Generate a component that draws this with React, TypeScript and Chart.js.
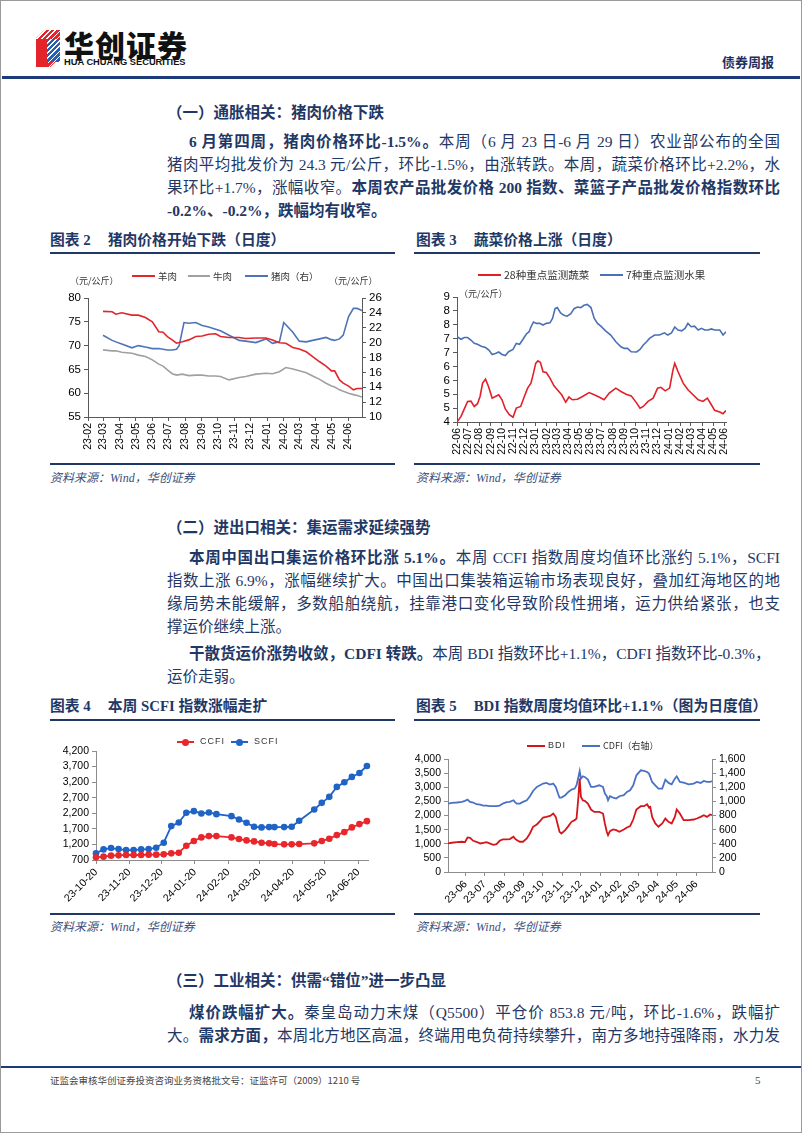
import React, { useEffect, useRef } from "react";
import { Chart, registerables } from "chart.js";
Chart.register(...registerables);

// ---------------- data ----------------
// Chart 2: meat prices (yuan/kg)
const meatDates = ["2023-03-01","2023-03-18","2023-03-25","2023-04-05","2023-04-24","2023-05-06","2023-05-19","2023-06-01","2023-06-13","2023-06-21","2023-06-29","2023-07-08","2023-07-16","2023-07-27","2023-08-08","2023-08-21","2023-09-02","2023-09-14","2023-09-27","2023-10-06","2023-10-22","2023-11-10","2023-11-22","2023-12-11","2023-12-30","2024-01-11","2024-01-24","2024-02-05","2024-02-18","2024-03-01","2024-03-14","2024-03-26","2024-04-08","2024-04-20","2024-04-30","2024-05-06","2024-05-15","2024-05-22","2024-06-01","2024-06-10","2024-06-17","2024-06-26"];
const muttonPrice = [77.2,77.1,76.6,76.9,76.4,76.4,75.9,75.0,72.9,72.8,71.9,71.2,70.5,70.8,71.2,71.9,72.0,72.4,72.5,71.9,71.7,71.7,71.5,71.6,71.6,71.2,70.6,70.5,69.6,69.3,68.7,67.7,66.6,65.7,64.7,64.7,62.8,62.1,61.5,60.7,61.0,61.0];
const beefPrice = [69.1,68.9,68.9,68.6,68.4,68.0,67.7,67.0,66.1,65.7,64.9,64.1,63.8,64.0,63.7,63.8,63.8,63.6,63.6,63.5,62.8,63.3,63.5,64.0,64.2,64.1,64.5,65.4,65.1,64.7,64.3,63.6,62.9,62.1,61.5,61.3,60.7,60.4,60.0,59.7,59.5,59.2];
const porkDates = ["2023-03-01","2023-03-18","2023-03-25","2023-04-05","2023-04-24","2023-05-06","2023-05-19","2023-06-01","2023-06-13","2023-06-21","2023-06-29","2023-07-08","2023-07-16","2023-07-21","2023-07-30","2023-08-08","2023-08-21","2023-09-02","2023-09-14","2023-09-27","2023-10-06","2023-10-22","2023-11-10","2023-11-22","2023-12-11","2023-12-30","2024-01-11","2024-01-24","2024-02-01","2024-02-05","2024-02-18","2024-03-01","2024-03-14","2024-03-26","2024-04-08","2024-04-20","2024-04-30","2024-05-06","2024-05-15","2024-05-22","2024-06-01","2024-06-10","2024-06-17","2024-06-26"];
const porkPrice = [21.0,20.3,20.1,19.8,19.3,19.6,19.4,19.2,19.2,19.1,19.0,19.0,19.1,19.6,22.7,22.6,22.7,22.3,22.1,21.8,21.6,21.0,20.3,20.2,20.0,20.5,19.9,20.1,22.7,22.4,21.4,20.2,20.1,20.3,20.5,20.7,20.4,20.3,20.5,21.0,23.5,24.6,24.6,24.3];
const meatTicks = ["2023-02-01","2023-03-01","2023-04-01","2023-05-01","2023-06-01","2023-07-01","2023-08-01","2023-09-01","2023-10-01","2023-11-01","2023-12-01","2024-01-01","2024-02-01","2024-03-01","2024-04-01","2024-05-01","2024-06-01"];

// Chart 3: vegetables / fruit (yuan/kg)
const vegDates = ["2022-06-01","2022-06-12","2022-06-21","2022-06-30","2022-07-09","2022-07-18","2022-07-27","2022-08-03","2022-08-10","2022-08-18","2022-08-26","2022-09-05","2022-09-14","2022-09-23","2022-10-02","2022-10-11","2022-10-22","2022-11-01","2022-11-10","2022-11-22","2022-12-02","2022-12-11","2022-12-20","2022-12-27","2023-01-02","2023-01-08","2023-01-15","2023-01-22","2023-01-31","2023-02-10","2023-02-21","2023-03-02","2023-03-14","2023-03-25","2023-04-03","2023-04-12","2023-04-26","2023-05-10","2023-05-28","2023-06-11","2023-06-24","2023-07-08","2023-07-22","2023-08-09","2023-08-23","2023-09-06","2023-09-20","2023-10-05","2023-10-14","2023-10-23","2023-11-05","2023-11-19","2023-12-01","2023-12-10","2023-12-22","2024-01-03","2024-01-12","2024-01-17","2024-01-26","2024-02-09","2024-02-22","2024-03-07","2024-03-21","2024-04-03","2024-04-15","2024-04-26","2024-05-05","2024-05-19","2024-05-28","2024-06-05"];
const vegPrice = [4.00,4.20,4.47,4.74,4.75,4.56,4.66,4.92,5.40,5.54,5.28,4.86,4.92,4.98,4.80,4.47,4.26,4.17,4.50,4.56,4.92,5.22,5.40,5.76,6.11,6.20,6.14,5.81,5.78,5.58,5.30,5.16,4.98,4.71,4.90,4.80,4.82,4.92,5.06,4.98,4.90,4.80,5.04,5.22,5.10,5.00,4.94,4.68,4.50,4.56,4.74,4.86,5.22,5.25,5.12,5.22,5.87,6.11,5.81,5.40,5.16,4.98,4.80,4.74,4.86,4.62,4.42,4.36,4.30,4.41];
const fruitDates = ["2022-06-01","2022-06-12","2022-06-21","2022-06-30","2022-07-09","2022-07-18","2022-07-27","2022-08-06","2022-08-18","2022-08-27","2022-09-05","2022-09-14","2022-09-23","2022-10-02","2022-10-11","2022-10-20","2022-11-01","2022-11-10","2022-11-19","2022-11-28","2022-12-07","2022-12-15","2022-12-20","2022-12-27","2023-01-04","2023-01-13","2023-01-22","2023-01-31","2023-02-10","2023-02-17","2023-02-24","2023-03-02","2023-03-11","2023-03-20","2023-03-29","2023-04-08","2023-04-17","2023-04-26","2023-05-05","2023-05-14","2023-05-23","2023-06-02","2023-06-11","2023-06-20","2023-06-29","2023-07-12","2023-07-26","2023-08-09","2023-08-23","2023-09-01","2023-09-10","2023-09-20","2023-10-05","2023-10-14","2023-10-23","2023-11-01","2023-11-09","2023-11-23","2023-12-06","2023-12-20","2023-12-29","2024-01-08","2024-01-17","2024-01-26","2024-02-05","2024-02-14","2024-02-22","2024-03-02","2024-03-11","2024-03-21","2024-03-30","2024-04-08","2024-04-17","2024-04-26","2024-05-05","2024-05-19","2024-05-28","2024-06-05"];
const fruitPrice = [7.07,6.98,7.04,7.04,6.95,6.83,6.80,6.73,6.68,6.59,6.43,6.47,6.52,6.43,6.39,6.53,6.61,6.83,6.80,6.97,7.16,7.25,7.42,7.60,7.55,7.55,7.49,7.55,7.57,7.73,8.08,8.12,7.93,7.84,7.81,7.90,8.08,8.14,8.12,8.20,8.23,8.12,7.73,7.55,7.45,7.28,7.13,6.89,6.71,6.65,6.65,6.53,6.52,6.61,6.77,6.89,7.01,7.13,7.13,7.21,7.13,7.21,7.42,7.31,7.28,7.37,7.55,7.43,7.45,7.31,7.37,7.31,7.31,7.35,7.31,7.31,7.13,7.25];
const vegTicks = ["2022-06-01","2022-07-01","2022-08-01","2022-09-01","2022-10-01","2022-11-01","2022-12-01","2023-01-01","2023-02-01","2023-03-01","2023-04-01","2023-05-01","2023-06-01","2023-07-01","2023-08-01","2023-09-01","2023-10-01","2023-11-01","2023-12-01","2024-01-01","2024-02-01","2024-03-01","2024-04-01","2024-05-01","2024-06-01"];

// Chart 4: CCFI / SCFI weekly
const freightDates = ["2023-10-20","2023-10-27","2023-11-03","2023-11-10","2023-11-17","2023-11-24","2023-12-01","2023-12-08","2023-12-15","2023-12-22","2023-12-29","2024-01-05","2024-01-12","2024-01-19","2024-01-26","2024-02-02","2024-02-09","2024-02-23","2024-03-01","2024-03-08","2024-03-15","2024-03-22","2024-03-29","2024-04-03","2024-04-12","2024-04-19","2024-04-26","2024-05-10","2024-05-17","2024-05-24","2024-05-31","2024-06-07","2024-06-14","2024-06-21","2024-06-28"];
const ccfi = [785,807,839,849,860,860,860,871,871,881,913,935,1159,1308,1426,1468,1468,1426,1372,1330,1298,1255,1234,1212,1202,1202,1212,1234,1308,1383,1500,1596,1746,1852,1948];
const scfi = [913,1041,1084,1052,1020,1020,1041,1052,1095,1255,1788,1906,2215,2268,2194,2226,2172,2108,2002,1895,1767,1746,1756,1756,1756,1767,1959,2322,2535,2727,3047,3197,3368,3495,3719];
const freightTicks = ["2023-10-20","2023-11-20","2023-12-20","2024-01-20","2024-02-20","2024-03-20","2024-04-20","2024-05-20","2024-06-20"];

// Chart 5: BDI / CDFI daily
const bulkDates = ["2023-05-04","2023-05-10","2023-05-18","2023-05-26","2023-05-31","2023-06-04","2023-06-08","2023-06-13","2023-06-18","2023-06-24","2023-06-29","2023-07-04","2023-07-09","2023-07-15","2023-07-20","2023-07-25","2023-07-30","2023-08-05","2023-08-10","2023-08-16","2023-08-18","2023-08-21","2023-08-26","2023-08-31","2023-09-06","2023-09-11","2023-09-16","2023-09-22","2023-09-27","2023-10-02","2023-10-07","2023-10-13","2023-10-18","2023-10-22","2023-10-26","2023-10-28","2023-10-31","2023-11-06","2023-11-11","2023-11-16","2023-11-21","2023-11-24","2023-11-27","2023-11-29","2023-12-01","2023-12-04","2023-12-07","2023-12-12","2023-12-17","2023-12-22","2023-12-30","2024-01-05","2024-01-08","2024-01-11","2024-01-13","2024-01-16","2024-01-21","2024-01-26","2024-01-31","2024-02-07","2024-02-12","2024-02-17","2024-02-22","2024-02-27","2024-03-05","2024-03-10","2024-03-15","2024-03-18","2024-03-20","2024-03-23","2024-03-28","2024-04-02","2024-04-08","2024-04-13","2024-04-18","2024-04-23","2024-04-28","2024-05-01","2024-05-06","2024-05-12","2024-05-20","2024-05-28","2024-06-02","2024-06-08","2024-06-13","2024-06-18","2024-06-23","2024-06-26"];
const bdi = [1011,1035,1059,1070,1059,1223,1211,1105,1070,1011,1035,1059,1011,964,988,1105,1152,1152,1164,1247,1188,1129,1070,1070,1188,1364,1600,1682,1799,1929,1952,1987,2070,1952,1600,1423,1364,1482,1623,1776,1835,1893,2658,3305,2658,2540,2517,2423,2211,2129,2129,2070,1717,1423,1305,1447,1505,1482,1423,1505,1576,1623,1858,2211,2329,2329,2399,2282,2305,1952,1717,1600,1717,1893,1776,1717,1952,2211,2070,1835,1835,1858,1893,1952,2011,1952,2035,2011];
const cdfi = [969,979,984,993,1007,1026,993,984,960,955,941,941,932,932,932,941,969,988,993,1016,993,969,969,993,1016,1073,1148,1205,1228,1252,1261,1238,1252,1205,1101,1054,1054,1087,1134,1167,1181,1228,1346,1430,1322,1355,1346,1308,1205,1205,1228,1205,1111,1073,1016,1073,1054,1040,1073,1087,1134,1158,1228,1369,1440,1431,1416,1393,1346,1275,1228,1181,1181,1308,1261,1242,1322,1355,1275,1266,1242,1252,1275,1261,1289,1275,1275,1289];
const bulkTicks = ["2023-06-01","2023-07-01","2023-08-01","2023-09-01","2023-10-01","2023-11-01","2023-12-01","2024-01-01","2024-02-01","2024-03-01","2024-04-01","2024-05-01","2024-06-01"];

// ---------------- helpers ----------------
const NAVY = "#1f3866";
const SERIF = '"Liberation Serif","Noto Sans CJK SC",serif';
const CJK = '"Noto Sans CJK SC","Liberation Sans",sans-serif';
const SANS = '"Liberation Sans",Arial,sans-serif';

const D = (s: string) => Date.UTC(+s.slice(0, 4), +s.slice(5, 7) - 1, +s.slice(8, 10)) / 86400000;
const pts = (dates: string[], vals: number[]) => vals.map((v, i) => ({ x: D(dates[i]), y: v }));
const ym = (s: string) => s.slice(2, 7);
const ymd = (s: string) => s.slice(2);
const comma = (v: number) => Math.round(v).toLocaleString("en-US");

function axisLines(color: string) {
  return {
    border: { display: true, color, width: 1 },
    grid: { display: true, drawOnChartArea: false, drawTicks: true, tickLength: 4, color, lineWidth: 1 },
  };
}

function xDateAxis(min: string, max: string, ticks: string[], fmt: (s: string) => string, rot: number, height: number, size: number, color: string) {
  return {
    type: "linear",
    min: D(min),
    max: D(max),
    afterBuildTicks: (s: any) => {
      s.ticks = ticks.map((t) => ({ value: D(t) }));
    },
    afterFit: (s: any) => {
      s.height = height;
    },
    ticks: {
      autoSkip: false,
      minRotation: rot,
      maxRotation: rot,
      padding: 2,
      color: "#000",
      font: { family: SANS, size },
      callback: (v: number) => {
        const t = ticks.find((d) => D(d) === v);
        return t ? fmt(t) : "";
      },
    },
    ...axisLines(color),
  };
}

function yAxis(position: string, min: number, max: number, step: number, width: number, size: number, color: string, fmt: (v: number) => string) {
  return {
    type: "linear",
    position,
    min,
    max,
    afterFit: (s: any) => {
      s.width = width;
    },
    afterBuildTicks: (s: any) => {
      const out: any[] = [];
      for (let v = min; v <= max + 1e-9; v += step) out.push({ value: +v.toFixed(4) });
      s.ticks = out;
    },
    ticks: { autoSkip: false, color: "#000", padding: 3, font: { family: SANS, size }, callback: (v: number) => fmt(v) },
    ...axisLines(color),
  };
}

const common = {
  responsive: false,
  animation: false,
  devicePixelRatio: 1,
  events: [],
  plugins: { legend: { display: false }, tooltip: { enabled: false }, title: { display: false } },
  elements: { point: { radius: 0 }, line: { tension: 0 } },
};

function ChartCanvas({ left, top, width, height, make }: any) {
  const ref = useRef<HTMLCanvasElement | null>(null);
  useEffect(() => {
    const c = new Chart(ref.current as HTMLCanvasElement, make());
    return () => c.destroy();
  }, []);
  return <canvas ref={ref} width={width} height={height} style={{ position: "absolute", left, top, width, height }} />;
}

// ---------------- chart configs ----------------
const makeMeat = () => ({
  type: "line",
  data: {
    datasets: [
      { data: pts(meatDates, muttonPrice), borderColor: "#e3262b", borderWidth: 1.6, yAxisID: "y" },
      { data: pts(meatDates, beefPrice), borderColor: "#a0a0a0", borderWidth: 1.6, yAxisID: "y" },
      { data: pts(porkDates, porkPrice), borderColor: "#4f73b8", borderWidth: 1.6, yAxisID: "y1" },
    ],
  },
  options: {
    ...common,
    layout: { padding: { top: 13, right: 0, bottom: 0, left: 0 } },
    scales: {
      x: xDateAxis("2023-02-01", "2024-06-26", meatTicks, ym, 90, 40, 10.5, "#595959"),
      y: yAxis("left", 55, 80, 5, 43, 11.5, "#595959", (v) => String(v)),
      y1: yAxis("right", 10, 26, 2, 33, 11.5, "#595959", (v) => String(v)),
    },
  },
});

const makeVeg = () => ({
  type: "line",
  data: {
    datasets: [
      { data: pts(vegDates, vegPrice), borderColor: "#e2202a", borderWidth: 1.6, yAxisID: "y" },
      { data: pts(fruitDates, fruitPrice), borderColor: "#4a70b5", borderWidth: 1.6, yAxisID: "y" },
    ],
  },
  options: {
    ...common,
    layout: { padding: { top: 12, right: 16, bottom: 0, left: 0 } },
    scales: {
      x: xDateAxis("2022-06-01", "2024-06-05", vegTicks, ym, 90, 35, 10.5, "#595959"),
      y: yAxis("left", 4, 8.5, 0.5, 45, 11.5, "#595959", (v) => String(Math.round(v))),
    },
  },
});

const makeFreight = () => ({
  type: "line",
  data: {
    datasets: [
      { data: pts(freightDates, ccfi), borderColor: "#e8262b", backgroundColor: "#e8262b", borderWidth: 1.8, pointRadius: 3.3, pointBorderWidth: 0, pointBackgroundColor: "#e8262b", clip: false, yAxisID: "y" },
      { data: pts(freightDates, scfi), borderColor: "#1f63c6", backgroundColor: "#1f63c6", borderWidth: 1.8, pointRadius: 3.3, pointBorderWidth: 0, pointBackgroundColor: "#1f63c6", clip: false, yAxisID: "y" },
    ],
  },
  options: {
    ...common,
    layout: { padding: { top: 26, right: 12, bottom: 0, left: 0 } },
    scales: {
      x: xDateAxis("2023-10-20", "2024-06-29", freightTicks, ymd, 45, 50, 10.5, "#8c8c8c"),
      y: yAxis("left", 700, 4200, 500, 46, 10.5, "#8c8c8c", comma),
    },
  },
});

const makeBulk = () => ({
  type: "line",
  data: {
    datasets: [
      { data: pts(bulkDates, bdi), borderColor: "#d4161c", borderWidth: 1.8, yAxisID: "y" },
      { data: pts(bulkDates, cdfi), borderColor: "#4a72c4", borderWidth: 1.8, yAxisID: "y1" },
    ],
  },
  options: {
    ...common,
    layout: { padding: { top: 34, right: 0, bottom: 0, left: 0 } },
    scales: {
      x: xDateAxis("2023-05-04", "2024-06-26", bulkTicks, ym, 45, 38, 10.5, "#8c8c8c"),
      y: yAxis("left", 0, 4000, 500, 36, 10.5, "#8c8c8c", comma),
      y1: yAxis("right", 0, 1600, 200, 45, 10.5, "#8c8c8c", comma),
    },
  },
});

// ---------------- page pieces ----------------
function Txt({ x, y, size, children, style }: any) {
  return (
    <div style={{ position: "absolute", left: x, top: y - size * 0.75, fontSize: size, lineHeight: `${size * 1.5}px`, whiteSpace: "nowrap", ...style }}>
      {children}
    </div>
  );
}

function BodyLine({ y, indent = false, just = true, children }: any) {
  const left = 167 + (indent ? 22 : 0);
  return (
    <div
      style={{
        position: "absolute",
        left,
        top: y - 11.5,
        width: 780 - left,
        height: 23,
        lineHeight: "23px",
        fontSize: 15.5,
        textAlign: just ? "justify" : "left",
        textAlignLast: just ? "justify" : "left",
        overflow: "hidden",
        color: NAVY,
      } as any}
    >
      {children}
    </div>
  );
}

function Rule({ x, y, w, h = 1.5, color = NAVY }: any) {
  return <div style={{ position: "absolute", left: x, top: y, width: w, height: h, background: color }} />;
}

function Swatch({ x1, x2, y, color, dot = false, h = 2 }: any) {
  return (
    <div style={{ position: "absolute", left: x1, top: y - h / 2, width: x2 - x1, height: h, background: color }}>
      {dot && <div style={{ position: "absolute", left: (x2 - x1) / 2 - 3.5, top: h / 2 - 3.5, width: 7, height: 7, borderRadius: "50%", background: color }} />}
    </div>
  );
}

function FigTitle({ x, y, num, children }: any) {
  return (
    <Txt x={x} y={y} size={14.8} style={{ fontWeight: 700, color: NAVY, fontFamily: SERIF }}>
      <span style={{ marginRight: 17 }}>图表 {num}</span>
      {children}
    </Txt>
  );
}

function Source({ x, y }: any) {
  return (
    <Txt x={x} y={y} size={12} style={{ fontStyle: "italic", color: "#3b4f7c", fontFamily: SERIF }}>
      资料来源：Wind，华创证券
    </Txt>
  );
}

const B = ({ children }: any) => <span style={{ fontWeight: 700 }}>{children}</span>;

function Logo() {
  const red = "repeating-linear-gradient(135deg,#e3242b 0 2.6px,#ffffff 2.6px 3.6px)";
  const blue = "repeating-linear-gradient(135deg,#2a5fb0 0 2.6px,#ffffff 2.6px 3.6px)";
  return (
    <>
      <div style={{ position: "absolute", left: 36, top: 30, width: 24, height: 37, overflow: "hidden" }}>
        <div style={{ position: "absolute", left: 0, top: 0, width: 24, height: 37, background: red, clipPath: "polygon(35% 0,100% 0,100% 75%,60% 100%,0 100%,0 22%)" }} />
        <div style={{ position: "absolute", left: 0, top: 9, width: 12, height: 28, background: "#e3242b" }} />
        <div style={{ position: "absolute", left: 11, top: 9, width: 13, height: 23, background: blue }} />
      </div>
      <Txt x={64} y={44} size={30} style={{ fontWeight: 900, fontFamily: CJK, color: "#111", letterSpacing: 1 }}>
        华创证券
      </Txt>
      <Txt x={64} y={63} size={9.3} style={{ fontWeight: 700, fontFamily: SANS, color: "#111" }}>
        HUA CHUANG SECURITIES
      </Txt>
    </>
  );
}

export default function App() {
  return (
    <div style={{ position: "absolute", left: 0, top: 0, width: 802, height: 1133, background: "#fff", overflow: "hidden", fontFamily: SERIF, color: NAVY }}>
      {/* header */}
      <Logo />
      <Txt x={722} y={62} size={13} style={{ fontWeight: 700, fontFamily: CJK, color: "#1d2f5e" }}>
        债券周报
      </Txt>
      <Rule x={2} y={76} w={798} h={3} color="#1d3a78" />

      {/* section 1 */}
      <Txt x={167} y={113} size={15.5} style={{ fontWeight: 700 }}>
        （一）通胀相关：猪肉价格下跌
      </Txt>
      <BodyLine y={141} indent>
        <B>6 月第四周，猪肉价格环比-1.5%。</B>本周（6 月 23 日-6 月 29 日）农业部公布的全国
      </BodyLine>
      <BodyLine y={164}>猪肉平均批发价为 24.3 元/公斤，环比-1.5%，由涨转跌。本周，蔬菜价格环比+2.2%，水</BodyLine>
      <BodyLine y={187}>
        果环比+1.7%，涨幅收窄。<B>本周农产品批发价格 200 指数、菜篮子产品批发价格指数环比</B>
      </BodyLine>
      <BodyLine y={210} just={false}>
        <B>-0.2%、-0.2%，跌幅均有收窄。</B>
      </BodyLine>

      {/* figure 2 & 3 */}
      <FigTitle x={50} y={240} num={2}>猪肉价格开始下跌（日度）</FigTitle>
      <FigTitle x={416} y={240} num={3}>蔬菜价格上涨（日度）</FigTitle>
      <Rule x={50} y={252} w={345} />
      <Rule x={414} y={252} w={346} />

      <ChartCanvas left={45} top={285} width={350} height={172} make={makeMeat} />
      <Swatch x1={132} x2={155} y={276} color="#e3262b" />
      <Txt x={158} y={276} size={9.5} style={{ fontFamily: CJK, color: "#333" }}>羊肉</Txt>
      <Swatch x1={188} x2={210} y={276} color="#a0a0a0" />
      <Txt x={213} y={276} size={9.5} style={{ fontFamily: CJK, color: "#333" }}>牛肉</Txt>
      <Swatch x1={245} x2={268} y={276} color="#4f73b8" />
      <Txt x={271} y={276} size={9.5} style={{ fontFamily: CJK, color: "#333" }}>猪肉（右）</Txt>
      <Txt x={70} y={281} size={9} style={{ fontFamily: CJK, color: "#333" }}>（元/公斤）</Txt>
      <Txt x={329} y={281} size={9} style={{ fontFamily: CJK, color: "#333" }}>（元/公斤）</Txt>

      <ChartCanvas left={412} top={285} width={330} height={172} make={makeVeg} />
      <Swatch x1={478} x2={501} y={275} color="#e2202a" />
      <Txt x={504} y={275} size={10.5} style={{ fontFamily: CJK, color: "#333" }}>28种重点监测蔬菜</Txt>
      <Swatch x1={600} x2={623} y={275} color="#4a70b5" />
      <Txt x={626} y={275} size={10.5} style={{ fontFamily: CJK, color: "#333" }}>7种重点监测水果</Txt>
      <Txt x={459} y={294} size={9} style={{ fontFamily: CJK, color: "#333" }}>（元/公斤）</Txt>

      <Rule x={50} y={463} w={345} />
      <Rule x={414} y={463} w={346} />
      <Source x={50} y={478} />
      <Source x={416} y={478} />

      {/* section 2 */}
      <Txt x={167} y={528} size={15.5} style={{ fontWeight: 700 }}>
        （二）进出口相关：集运需求延续强势
      </Txt>
      <BodyLine y={557} indent>
        <B>本周中国出口集运价格环比涨 5.1%。</B>本周 CCFI 指数周度均值环比涨约 5.1%，SCFI
      </BodyLine>
      <BodyLine y={580}>指数上涨 6.9%，涨幅继续扩大。中国出口集装箱运输市场表现良好，叠加红海地区的地</BodyLine>
      <BodyLine y={603}>缘局势未能缓解，多数船舶绕航，挂靠港口变化导致阶段性拥堵，运力供给紧张，也支</BodyLine>
      <BodyLine y={626} just={false}>撑运价继续上涨。</BodyLine>
      <BodyLine y={653} indent just={false}>
        <B>干散货运价涨势收敛，CDFI 转跌。</B>本周 BDI 指数环比+1.1%，CDFI 指数环比-0.3%，
      </BodyLine>
      <BodyLine y={676} just={false}>运价走弱。</BodyLine>

      {/* figure 4 & 5 */}
      <FigTitle x={50} y={706} num={4}>本周 SCFI 指数涨幅走扩</FigTitle>
      <FigTitle x={416} y={706} num={5}>BDI 指数周度均值环比+1.1%（图为日度值）</FigTitle>
      <Rule x={50} y={719} w={345} />
      <Rule x={414} y={719} w={346} />

      <ChartCanvas left={50} top={725} width={330} height={185} make={makeFreight} />
      <Swatch x1={177} x2={194} y={742} color="#e8262b" dot />
      <Txt x={200} y={742} size={9} style={{ fontFamily: SANS, color: "#333", letterSpacing: 1 }}>CCFI</Txt>
      <Swatch x1={231} x2={248} y={742} color="#1f63c6" dot />
      <Txt x={254} y={742} size={9} style={{ fontFamily: SANS, color: "#333", letterSpacing: 1 }}>SCFI</Txt>

      <ChartCanvas left={412} top={725} width={345} height={185} make={makeBulk} />
      <Swatch x1={527} x2={545} y={746} color="#d4161c" />
      <Txt x={548} y={746} size={9} style={{ fontFamily: SANS, color: "#333", letterSpacing: 1 }}>BDI</Txt>
      <Swatch x1={582} x2={600} y={746} color="#4a72c4" />
      <Txt x={603} y={746} size={9} style={{ fontFamily: CJK, color: "#333" }}>CDFI（右轴）</Txt>

      <Rule x={50} y={913} w={345} />
      <Rule x={414} y={913} w={346} />
      <Source x={50} y={927} />
      <Source x={416} y={927} />

      {/* section 3 */}
      <Txt x={167} y={981} size={15.5} style={{ fontWeight: 700 }}>
        （三）工业相关：供需“错位”进一步凸显
      </Txt>
      <BodyLine y={1012} indent>
        <B>煤价跌幅扩大。</B>秦皇岛动力末煤（Q5500）平仓价 853.8 元/吨，环比-1.6%，跌幅扩
      </BodyLine>
      <BodyLine y={1035}>
        大。<B>需求方面，</B>本周北方地区高温，终端用电负荷持续攀升，南方多地持强降雨，水力发
      </BodyLine>

      {/* footer */}
      <Rule x={0} y={1066} w={802} h={2} color="#1d3a78" />
      <Txt x={50} y={1080} size={9.5} style={{ fontFamily: CJK, color: "#444" }}>
        证监会审核华创证券投资咨询业务资格批文号：证监许可（2009）1210 号
      </Txt>
      <Txt x={755} y={1080} size={11} style={{ fontFamily: SERIF, color: "#444" }}>5</Txt>

      <div style={{ position: "absolute", left: 0, top: 0, width: 802, height: 1133, boxSizing: "border-box", border: "1px solid #9a9a9a", pointerEvents: "none" }} />
    </div>
  );
}
